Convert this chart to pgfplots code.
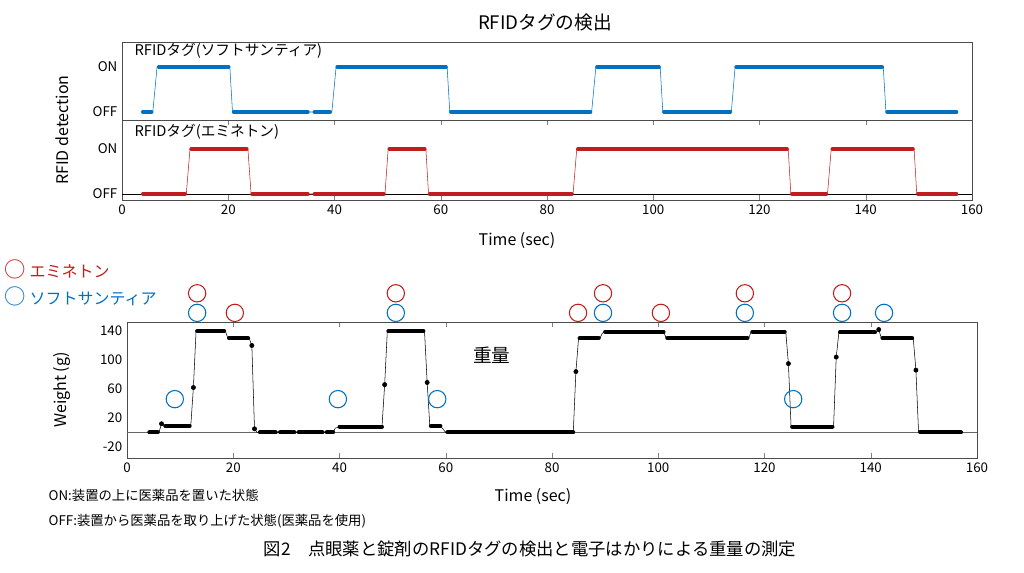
\documentclass[border=0pt]{standalone}
\usepackage{pgfplots}
\pgfplotsset{compat=1.18}
\usepackage{fontspec}
\setmainfont{Noto Sans CJK JP}
\definecolor{bl}{RGB}{0,112,192}
\definecolor{rd}{RGB}{192,30,30}
\begin{document}
\begin{tikzpicture}
\path (0,0) rectangle (768pt,-429.75pt);
\pgfplotsset{every axis/.style={scale only axis,width=637.5pt,
  /pgf/number format/assume math mode=true,
  tick label style={font=\fontsize{10}{12}\selectfont},
  xmin=0,xmax=160,xtick={0,20,...,160},tick align=inside,
  major tick length=4pt,clip=false,axis line style={black!70}}}
% panel 1
\begin{axis}[at={(91.5pt,-31.5pt)},anchor=north west,height=58.5pt,
  ymin=-0.178,ymax=1.556,ytick={0,1},yticklabels={OFF,ON},
  xticklabels={},xtick style={draw=none},ytick style={draw=none}]
\addplot[bl,thin] coordinates {(3.8,0)(5.8,0)(6.6,1)(20.3,1)(20.8,0)(39.5,0)(40.3,1)(61.2,1)(61.7,0)(88.4,0)(89.2,1)(101.3,1)(101.8,0)(114.7,0)(115.4,1)(143.3,1)(143.8,0)(157.2,0)};
\addplot[bl,line width=2.6pt,line cap=round,unbounded coords=jump] coordinates {(3.9,0)(5.6,0)(nan,nan)(6.9,1)(20.1,1)(nan,nan)(21.0,0)(35.0,0)(nan,nan)(36.2,0)(39.2,0)(nan,nan)(40.5,1)(61.0,1)(nan,nan)(61.9,0)(88.2,0)(nan,nan)(89.4,1)(101.1,1)(nan,nan)(102.0,0)(114.5,0)(nan,nan)(115.6,1)(143.1,1)(nan,nan)(144.0,0)(157.1,0)};
\node[anchor=west,font=\fontsize{11}{13}\selectfont] at (axis cs:1.5,1.36) {RFIDタグ(ソフトサンティア)};
\end{axis}
% panel 2
\begin{axis}[at={(91.5pt,-90pt)},anchor=north west,height=60pt,
  ymin=-0.133,ymax=1.644,ytick={0,1},yticklabels={OFF,ON},ytick style={draw=none}]
\addplot[black,thin] coordinates {(0,0)(160,0)};
\addplot[rd,thin] coordinates {(3.8,0)(12.1,0)(12.8,1)(23.7,1)(24.3,0)(49.5,0)(50.1,1)(57.2,1)(57.7,0)(84.9,0)(85.6,1)(125.4,1)(125.9,0)(132.8,0)(133.5,1)(149.1,1)(149.6,0)(157.2,0)};
\addplot[rd,line width=2.6pt,line cap=round,unbounded coords=jump] coordinates {(3.9,0)(11.9,0)(nan,nan)(13.0,1)(23.5,1)(nan,nan)(24.5,0)(35.0,0)(nan,nan)(36.2,0)(49.3,0)(nan,nan)(50.3,1)(57.0,1)(nan,nan)(57.9,0)(84.7,0)(nan,nan)(85.8,1)(125.2,1)(nan,nan)(126.1,0)(132.6,0)(nan,nan)(133.7,1)(148.9,1)(nan,nan)(149.8,0)(157.1,0)};
\node[anchor=west,font=\fontsize{11}{13}\selectfont] at (axis cs:1.5,1.38) {RFIDタグ(エミネトン)};
\end{axis}
\node[rotate=90,font=\fontsize{12}{14}\selectfont] at (46.5pt,-97.5pt) {RFID detection};
\node[font=\fontsize{12}{14}\selectfont] at (387.75pt,-180.75pt) {Time (sec)};
\node[font=\fontsize{14}{16}\selectfont] at (408.75pt,-16.5pt) {RFIDタグの検出};
% weight
\begin{axis}[at={(95.25pt,-241.5pt)},anchor=north west,height=102pt,
  ymin=-35.2,ymax=152.4,ytick={-20,20,60,100,140},ytick style={draw=none}]
\addplot[black!60,thick] coordinates {(0,0)(160,0)};
\addplot[black,thin] coordinates {(4,0)(6,0)(6.5,12)(7,9)(12,9)(12.5,62)(13,140)(18.5,140)(19,130)(23,130)(23.5,120)(24,5)(24.5,0)(37.5,0)(38.8,0)(39.2,6)(40,8)(48,8)(48.5,66)(49,140)(56,140)(56.5,69)(57,9)(59,9)(60,0)(84,0)(84.5,84)(85,130)(89,130)(89.5,137)(90,139)(101,139)(101.5,130)(117,130)(117.5,139)(124,139)(124.5,95)(125,8)(133,8)(133.5,104)(134,138)(141,138)(141.5,142)(142,130)(148,130)(148.5,86)(149,0)(157,0)};
\addplot[black,line width=3pt,line cap=round,unbounded coords=jump] coordinates {(4.2,0)(5.8,0)(nan,nan)(7.2,9)(11.8,9)(nan,nan)(13.2,140)(18.3,140)(nan,nan)(19.2,130)(22.8,130)(nan,nan)(25,0)(28,0)(nan,nan)(28.8,0)(31.5,0)(nan,nan)(32.3,0)(36.8,0)(nan,nan)(37.6,0)(38.8,0)(nan,nan)(40,8)(48,8)(nan,nan)(49.2,140)(55.8,140)(nan,nan)(57.2,9)(59,9)(nan,nan)(60.3,0)(84,0)(nan,nan)(85.2,130)(88.8,130)(nan,nan)(90,139)(101,139)(nan,nan)(101.7,130)(116.8,130)(nan,nan)(117.7,139)(123.8,139)(nan,nan)(125.2,8)(132.8,8)(nan,nan)(134.2,138)(140.8,138)(nan,nan)(142.2,130)(147.8,130)(nan,nan)(149.3,0)(157,0)};
\addplot[black,only marks,mark=*,mark size=1.6pt] coordinates {(6.5,12)(12.5,62)(23.5,120)(24,5)(48.5,66)(56.5,69)(84.5,84)(124.5,95)(133.5,104)(141.5,142)(148.5,86)};
\addplot[rd,only marks,mark=o,mark size=6.5pt,thick] coordinates {(13.2,192)(20.3,165)(50.6,192)(84.9,165)(89.6,192)(100.5,165)(116.3,192)(134.6,192)};
\addplot[bl,only marks,mark=o,mark size=6.5pt,thick] coordinates {(13.2,165)(50.6,165)(89.6,165)(116.3,165)(134.6,165)(142.5,165)(9.0,46)(39.7,46)(58.4,46)(125.4,46)};
\node[font=\fontsize{14}{16}\selectfont] at (axis cs:68.7,107) {重量};
\end{axis}
\node[rotate=90,font=\fontsize{12}{14}\selectfont] at (46.5pt,-292.5pt) {Weight (g)};
\node[font=\fontsize{12}{14}\selectfont] at (399.75pt,-372.75pt) {Time (sec)};
\node[anchor=west,font=\fontsize{12}{14}\selectfont] at (0pt,-201.75pt) {\textcolor{rd}{\fontsize{16}{16}\selectfont○\fontsize{12}{14}\selectfont\ エミネトン}};
\node[anchor=west,font=\fontsize{12}{14}\selectfont] at (0pt,-222pt) {\textcolor{bl}{\fontsize{16}{16}\selectfont○\fontsize{12}{14}\selectfont\ ソフトサンティア}};
\node[anchor=west,font=\fontsize{10}{12}\selectfont] at (33pt,-371.25pt) {ON:装置の上に医薬品を置いた状態};
\node[anchor=west,font=\fontsize{10}{12}\selectfont] at (33pt,-390.75pt) {OFF:装置から医薬品を取り上げた状態(医薬品を使用)};
\node[font=\fontsize{13}{15}\selectfont] at (397.5pt,-411.75pt) {図2\quad 点眼薬と錠剤のRFIDタグの検出と電子はかりによる重量の測定};
\end{tikzpicture}
\end{document}
